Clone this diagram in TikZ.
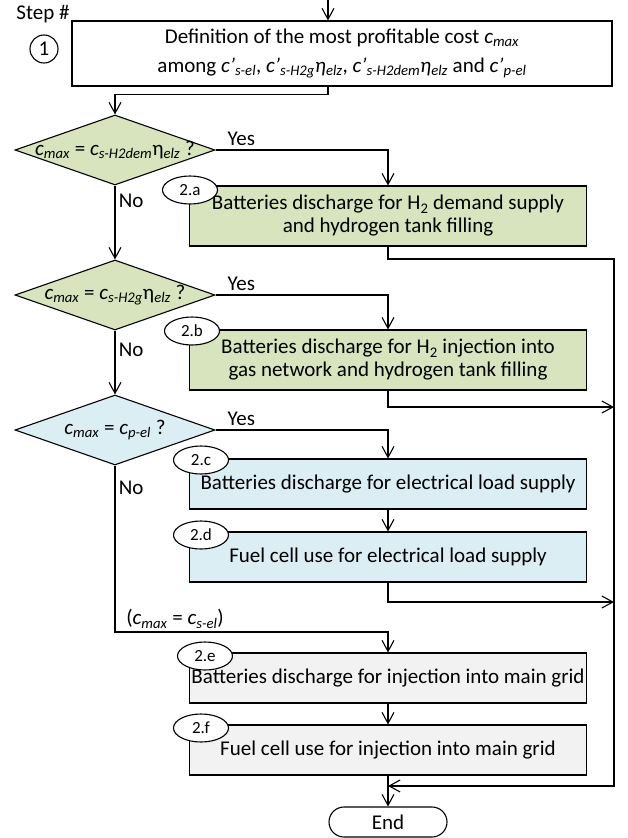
\documentclass[tikz,border=0pt]{standalone}
\usepackage{fontspec}
\setmainfont{Carlito}
\usetikzlibrary{shapes.geometric}
\usetikzlibrary{shapes.misc}
\usetikzlibrary{arrows.meta}
\definecolor{stepgreen}{RGB}{215,228,189}
\definecolor{stepblue}{RGB}{219,238,244}
\definecolor{stepgray}{RGB}{242,242,242}
\newcommand{\isub}[2]{\textit{#1}\textsubscript{\textit{#2}}}
\tikzset{every node/.style={font=\fontsize{21}{23}\selectfont}, % Text size of all labels
box/.style={ % Sets the properties for each action
draw,
rectangle,
minimum width=397,
minimum height=50,
inner sep=2pt,
align=center},
decision/.style={ % Question nodes, text may run over the border
draw,
diamond,
minimum width=200,
minimum height=70,
inner sep=0pt},
steptag/.style={draw, ellipse, fill=white, minimum width=55, minimum height=28,
inner sep=0pt, font=\fontsize{17}{19}\selectfont},
terminal/.style={draw, rounded rectangle, minimum width=118, minimum height=30, inner sep=0pt},
flow/.style={-{Straight Barb[length=11pt,width=12pt]}}}

\begin{document}
\begin{tikzpicture}[x=1pt, y=-1pt, line width=1.1pt]
\useasboundingbox (0,0) rectangle (628,838);
\node (steplbl) at (43,14) {Step \#};
\node[circle, draw, minimum size=28, inner sep=0pt] (s1) at (44,49) {1};
\node[box, minimum width=540, minimum height=65] (box1) at (342,53.5)
{Definition of the most profitable cost \isub{c}{max}\\[6pt]
among \isub{c’}{s-el}, \isub{c’}{s-H2g}\isub{η}{elz}, \isub{c’}{s-H2dem}\isub{η}{elz} and \isub{c’}{p-el}};
% questions
\node[decision, fill=stepgreen] (d1) at (115,150)
{\makebox[0pt]{\isub{c}{max} = \isub{c}{s-H2dem}η\textsubscript{\textit{elz}} ?}};
\node[decision, fill=stepgreen] (d2) at (115,295)
{\makebox[0pt]{\isub{c}{max} = \isub{c}{s-H2g}η\textsubscript{\textit{elz}} ?}};
\node[decision, fill=stepblue] (d3) at (115,430)
{\makebox[0pt]{\isub{c}{max} = \isub{c}{p-el} ?}};
% actions
\node[box, fill=stepgreen, minimum height=60] (b2a) at (388,216)
{Batteries discharge for H\textsubscript{2} demand supply\\and hydrogen tank filling};
\node[box, fill=stepgreen, minimum height=60] (b2b) at (388,360)
{Batteries discharge for H\textsubscript{2} injection into\\gas network and hydrogen tank filling};
\node[box, fill=stepblue] (b2c) at (388,484) {Batteries discharge for electrical load supply};
\node[box, fill=stepblue] (b2d) at (388,557) {Fuel cell use for electrical load supply};
\node[box, fill=stepgray] (b2e) at (388,678) {\raisebox{-3pt}{Batteries discharge for injection into main grid}};
\node[box, fill=stepgray] (b2f) at (388,750) {Fuel cell use for injection into main grid};
\node[steptag] (t2a) at (190,190) {2.a};
\node[steptag] (t2b) at (192,331) {2.b};
\node[steptag] (t2c) at (201,460) {2.c};
\node[steptag] (t2d) at (201,535) {2.d};
\node[steptag] (t2e) at (205,656) {2.e};
\node[steptag] (t2f) at (201,728) {2.f};
\node[terminal] (stop) at (388,822) {End};
\coordinate (start) at (328,0);
\coordinate (rtop) at (614,259);
\coordinate (rbot) at (614,786);
\coordinate (merge) at (388,786);
\coordinate (r2) at (614,407);
\coordinate (r3) at (614,602);
\coordinate (jn) at (388,632);
% connectors
\draw[flow] (start) -- (start |- box1.north);
\draw[flow] (box1.south -| start) -- ++(0,8) -| (d1.north);
\draw[flow] (d1.east) -| node[pos=0.075, above] (y1) {Yes} (b2a.north);
\draw[flow] (d1.south) -- node[pos=0.21, right] (n1) {No} (d2.north);
\draw[flow] (d2.east) -| node[pos=0.075, above] (y2) {Yes} (b2b.north);
\draw[flow] (d2.south) -- node[pos=0.3, right] (n2) {No} (d3.north);
\draw[flow] (d3.east) -| node[pos=0.075, above] (y3) {Yes} (b2c.north);
\draw[flow] (b2c) -- (b2d);
\draw[flow] (d3.south) |- node[pos=0.066, right] (n3) {No}
node[pos=0.61, above] (other) {(\isub{c}{max} = \isub{c}{s-el})} (jn) -- (b2e.north);
\draw[flow] (b2e) -- (b2f);
\draw[flow] (b2f) -- (stop);
\draw[flow] (b2a.south) |- (rtop) -- (rbot) -- (merge);
\draw[flow] (b2b.south) |- (r2);
\draw[flow] (b2d.south) |- (r3);
\end{tikzpicture}
\end{document}
